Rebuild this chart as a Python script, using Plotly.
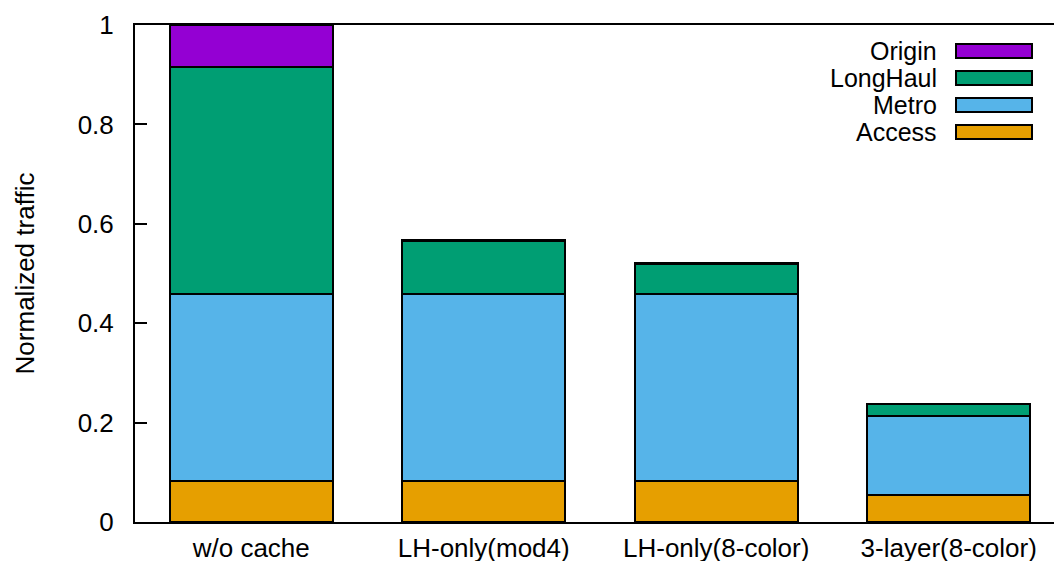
import plotly.graph_objects as go

# Stacked traffic breakdown per caching scheme
categories = ["w/o cache", "LH-only(mod4)", "LH-only(8-color)", "3-layer(8-color)"]
access = [0.082, 0.082, 0.082, 0.054]
metro = [0.376, 0.376, 0.376, 0.159]
longhaul = [0.457, 0.107, 0.061, 0.024]
origin = [0.085, 0.002, 0.003, 0.001]

series_names = ["Access", "Metro", "LongHaul", "Origin"]
series_values = [access, metro, longhaul, origin]
series_colors = ["#E69F00", "#56B4E9", "#009E73", "#9400D3"]

FONT = "Liberation Sans, Arial, sans-serif"
W, H = 1054, 561
ML, MR, MT, MB = 135, 0, 25, 39

fig = go.Figure()
xs = list(range(len(categories)))
for name, vals, col in zip(series_names, series_values, series_colors):
    fig.add_trace(go.Bar(
        x=xs, y=vals, name=name, width=0.7,
        marker=dict(color=col, line=dict(color="black", width=2)),
        showlegend=False,
    ))

# Legend drawn as label + wide swatch, label on the left
pw = W - ML - MR
ph = H - MT - MB
def px_x(p):
    return (p - ML) / pw
def px_y(p):
    return (H - MB - p) / ph

shapes = []
annotations = []
row_y = [132, 105, 78, 51]  # Access, Metro, LongHaul, Origin (pixel centers)
for name, col, cy in zip(series_names, series_colors, row_y):
    shapes.append(dict(
        type="rect", xref="paper", yref="paper",
        x0=px_x(956), x1=px_x(1032), y0=px_y(cy + 7), y1=px_y(cy - 7),
        fillcolor=col, line=dict(color="black", width=2),
    ))
    annotations.append(dict(
        xref="paper", yref="paper", x=px_x(939), y=px_y(cy),
        xanchor="right", yanchor="middle", text=name, showarrow=False,
        font=dict(family=FONT, size=25, color="black"),
    ))

fig.update_layout(
    width=W, height=H,
    margin=dict(l=ML, r=MR, t=MT, b=MB, pad=0),
    barmode="stack",
    plot_bgcolor="white", paper_bgcolor="white",
    font=dict(family=FONT, size=26, color="black"),
    shapes=shapes, annotations=annotations,
    xaxis=dict(
        range=[-0.5, 3.453], tickmode="array", tickvals=xs, ticktext=categories,
        showline=True, linecolor="black", linewidth=2, mirror=True,
        ticks="", showgrid=False, zeroline=False, ticklabelstandoff=2,
        tickfont=dict(size=26), automargin=False,
    ),
    yaxis=dict(
        range=[0, 1], tickvals=[0, 0.2, 0.4, 0.6, 0.8, 1],
        ticktext=["0", "0.2", "0.4", "0.6", "0.8", "1"],
        showline=True, linecolor="black", linewidth=2, mirror=False,
        ticks="inside", ticklen=12, tickwidth=2, tickcolor="black",
        showgrid=False, zeroline=False, ticklabelstandoff=14,
        title=dict(text="Normalized traffic", standoff=36, font=dict(size=26)),
        tickfont=dict(size=26), automargin=False,
    ),
    bargap=0.3,
)

fig.write_html("out.html")
